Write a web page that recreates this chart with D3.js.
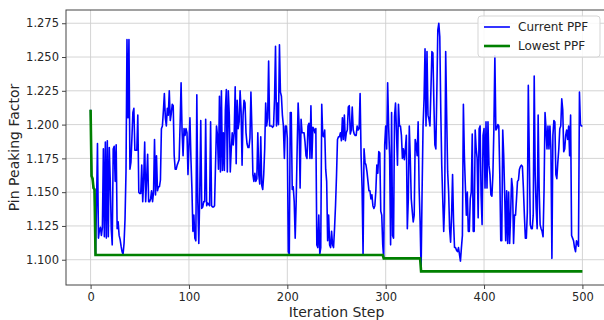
<!DOCTYPE html>
<html>
<head>
<meta charset="utf-8">
<script src="https://cdn.jsdelivr.net/npm/d3@7"></script>
<style>
  html, body { margin: 0; padding: 0; background: #fff; overflow: hidden; }
  svg { display: block; font-family: "DejaVu Sans", sans-serif; }
</style>
</head>
<body>
<div id="chart"></div>
<script>
// Current PPF per iteration step (steps 0..500)
const ppfSteps0to99 = [
  1.211, 1.162, 1.160, 1.153, 1.152, 1.1035, 1.140, 1.186, 1.116, 1.122,
  1.124, 1.118, 1.124, 1.182, 1.117, 1.187, 1.116, 1.188, 1.117, 1.183,
  1.158, 1.123, 1.111, 1.182, 1.184, 1.158, 1.185, 1.123, 1.128, 1.118,
  1.115, 1.110, 1.106, 1.104, 1.112, 1.130, 1.165, 1.263, 1.205, 1.263,
  1.167, 1.172, 1.190, 1.209, 1.212, 1.181, 1.181, 1.181, 1.207, 1.150,
  1.149, 1.149, 1.170, 1.143, 1.160, 1.187, 1.143, 1.160, 1.178, 1.143,
  1.143, 1.145, 1.151, 1.143, 1.150, 1.189, 1.148, 1.177, 1.151, 1.154,
  1.154, 1.159, 1.197, 1.199, 1.210, 1.223, 1.205, 1.199, 1.212, 1.207,
  1.225, 1.203, 1.208, 1.215, 1.214, 1.177, 1.167, 1.167, 1.170, 1.172,
  1.174, 1.200, 1.231, 1.195, 1.177, 1.197, 1.192, 1.197, 1.194, 1.163
];
const ppfSteps100to199 = [
  1.185, 1.205, 1.175, 1.153, 1.121, 1.133, 1.116, 1.114, 1.222, 1.143,
  1.112, 1.150, 1.203, 1.138, 1.139, 1.143, 1.143, 1.204, 1.140, 1.142,
  1.141, 1.140, 1.202, 1.140, 1.139, 1.139, 1.140, 1.170, 1.199, 1.192,
  1.167, 1.221, 1.165, 1.225, 1.166, 1.194, 1.166, 1.211, 1.226, 1.165,
  1.225, 1.207, 1.165, 1.182, 1.194, 1.185, 1.194, 1.228, 1.171, 1.218,
  1.197, 1.202, 1.225, 1.210, 1.170, 1.207, 1.218, 1.216, 1.194, 1.186,
  1.183, 1.183, 1.190, 1.224, 1.197, 1.163, 1.158, 1.164, 1.158, 1.160,
  1.194, 1.163, 1.156, 1.191, 1.155, 1.152, 1.163, 1.182, 1.216, 1.199,
  1.205, 1.247, 1.199, 1.199, 1.199, 1.198, 1.199, 1.219, 1.258, 1.199,
  1.216, 1.200, 1.259, 1.224, 1.221, 1.207, 1.199, 1.175, 1.199, 1.199
];
const ppfSteps200to299 = [
  1.190, 1.106, 1.104, 1.209, 1.209, 1.152, 1.154, 1.143, 1.116, 1.143,
  1.182, 1.216, 1.199, 1.153, 1.204, 1.194, 1.194, 1.194, 1.187, 1.177,
  1.175, 1.199, 1.201, 1.175, 1.214, 1.175, 1.198, 1.197, 1.194, 1.197,
  1.111, 1.109, 1.133, 1.104, 1.109, 1.215, 1.192, 1.191, 1.196, 1.167,
  1.158, 1.114, 1.133, 1.111, 1.109, 1.121, 1.111, 1.109, 1.123, 1.140,
  1.162, 1.189, 1.191, 1.191, 1.194, 1.188, 1.205, 1.189, 1.207, 1.188,
  1.194, 1.196, 1.213, 1.214, 1.193, 1.196, 1.213, 1.196, 1.193, 1.192,
  1.192, 1.199, 1.196, 1.197, 1.223, 1.177, 1.153, 1.104, 1.182, 1.172,
  1.170, 1.165, 1.158, 1.151, 1.151, 1.145, 1.148, 1.140, 1.138, 1.140,
  1.151, 1.170, 1.164, 1.180, 1.179, 1.136, 1.133, 1.111, 1.101, 1.185
];
const ppfSteps300to399 = [
  1.199, 1.182, 1.231, 1.199, 1.177, 1.111, 1.209, 1.118, 1.116, 1.206,
  1.216, 1.194, 1.170, 1.215, 1.199, 1.199, 1.192, 1.175, 1.182, 1.174,
  1.182, 1.192, 1.123, 1.145, 1.199, 1.175, 1.145, 1.136, 1.128, 1.133,
  1.189, 1.185, 1.177, 1.202, 1.153, 1.128, 1.0914, 1.150, 1.199, 1.219,
  1.256, 1.199, 1.254, 1.207, 1.204, 1.199, 1.226, 1.254, 1.253, 1.216,
  1.185, 1.182, 1.224, 1.270, 1.275, 1.265, 1.211, 1.170, 1.145, 1.121,
  1.143, 1.254, 1.207, 1.165, 1.150, 1.123, 1.113, 1.133, 1.163, 1.128,
  1.109, 1.109, 1.107, 1.106, 1.109, 1.104, 1.099, 1.109, 1.118, 1.215,
  1.177, 1.155, 1.133, 1.150, 1.121, 1.121, 1.145, 1.150, 1.193, 1.121,
  1.121, 1.196, 1.182, 1.175, 1.131, 1.197, 1.199, 1.148, 1.126, 1.192
];
const ppfSteps400to500 = [
  1.197, 1.153, 1.202, 1.153, 1.202, 1.170, 1.163, 1.148, 1.147, 1.163,
  1.197, 1.251, 1.196, 1.197, 1.200, 1.199, 1.163, 1.114, 1.114, 1.196,
  1.177, 1.148, 1.114, 1.151, 1.112, 1.150, 1.112, 1.133, 1.160, 1.153,
  1.112, 1.133, 1.133, 1.145, 1.158, 1.159, 1.167, 1.169, 1.170, 1.169,
  1.153, 1.133, 1.116, 1.116, 1.135, 1.229, 1.177, 1.126, 1.123, 1.123,
  1.133, 1.236, 1.163, 1.138, 1.123, 1.207, 1.153, 1.126, 1.123, 1.121,
  1.117, 1.151, 1.209, 1.197, 1.182, 1.199, 1.182, 1.199, 1.182, 1.101,
  1.192, 1.203, 1.202, 1.163, 1.160, 1.172, 1.182, 1.197, 1.199, 1.219,
  1.211, 1.180, 1.182, 1.192, 1.196, 1.189, 1.199, 1.177, 1.207, 1.118,
  1.116, 1.114, 1.109, 1.106, 1.114, 1.112, 1.110, 1.224, 1.200, 1.199,
  1.199
];

// Lowest PPF so far: corner points of the green line
const lowestSteps = [0, 1, 2, 3, 4, 5, 297, 298, 335, 336, 500];
const lowestValues = [1.211, 1.162, 1.160, 1.153, 1.152, 1.1035, 1.1035, 1.101, 1.101, 1.0914, 1.0914];

const xTicks = [0, 100, 200, 300, 400, 500];
const yTicks = [1.100, 1.125, 1.150, 1.175, 1.200, 1.225, 1.250, 1.275];
const seriesNames = ["Current PPF", "Lowest PPF"];

const W = 604, H = 320;
const margin = { top: 10, left: 66, bottom: 35, right: -3 };
const width = W - margin.left - margin.right;
const height = H - margin.top - margin.bottom;

const current = [].concat(ppfSteps0to99, ppfSteps100to199, ppfSteps200to299, ppfSteps300to399, ppfSteps400to500)
  .map((v, i) => ({ step: i, value: v }));
const lowest = lowestSteps.map((s, i) => ({ step: s, value: lowestValues[i] }));

const svg = d3.select("#chart").append("svg")
  .attr("width", W)
  .attr("height", H);

const x = d3.scaleLinear().domain([-25, 525]).range([0, width]);
const y = d3.scaleLinear().domain([1.0813, 1.2848]).range([height, 0]);

const g = svg.append("g").attr("transform", `translate(${margin.left},${margin.top})`);

// grid
g.append("g").selectAll("line").data(xTicks).enter().append("line")
  .attr("x1", d => x(d)).attr("x2", d => x(d))
  .attr("y1", 0).attr("y2", height)
  .attr("stroke", "#cfcfcf").attr("stroke-width", 0.9);
g.append("g").selectAll("line").data(yTicks).enter().append("line")
  .attr("x1", 0).attr("x2", width)
  .attr("y1", d => y(d)).attr("y2", d => y(d))
  .attr("stroke", "#cfcfcf").attr("stroke-width", 0.9);

// lines
const line = d3.line().x(d => x(d.step)).y(d => y(d.value));

g.append("path").datum(current)
  .attr("d", line)
  .attr("fill", "none")
  .attr("stroke", "#0000ff")
  .attr("stroke-width", 1.6)
  .attr("stroke-linejoin", "round");

g.append("path").datum(lowest)
  .attr("d", line)
  .attr("fill", "none")
  .attr("stroke", "#008000")
  .attr("stroke-width", 2.6);

// frame
g.append("rect")
  .attr("x", 0).attr("y", 0)
  .attr("width", width).attr("height", height)
  .attr("fill", "none").attr("stroke", "#444").attr("stroke-width", 1);

// axes
const xAxis = g.append("g")
  .attr("transform", `translate(0,${height})`)
  .call(d3.axisBottom(x).tickValues(xTicks).tickSize(4).tickPadding(4));
const yAxis = g.append("g")
  .call(d3.axisLeft(y).tickValues(yTicks).tickFormat(d3.format(".3f")).tickSize(4).tickPadding(3));

[xAxis, yAxis].forEach(a => {
  a.select(".domain").remove();
  a.selectAll("line").attr("stroke", "#444");
  a.selectAll("text")
    .attr("fill", "#262626")
    .attr("font-size", "11.5px")
    .attr("font-family", "DejaVu Sans, sans-serif");
});

// axis labels
svg.append("text")
  .attr("x", margin.left + x(250))
  .attr("y", 317)
  .attr("text-anchor", "middle")
  .attr("font-size", "14px")
  .attr("fill", "#262626")
  .text("Iteration Step");

svg.append("text")
  .attr("transform", `translate(19,${margin.top + height / 2}) rotate(-90)`)
  .attr("text-anchor", "middle")
  .attr("font-size", "14px")
  .attr("fill", "#262626")
  .text("Pin Peaking Factor");

// legend
const legend = svg.append("g").attr("transform", "translate(478,16)");
legend.append("rect")
  .attr("width", 122).attr("height", 41)
  .attr("rx", 3)
  .attr("fill", "rgba(255,255,255,0.85)")
  .attr("stroke", "#d5d5d5");

const legendColors = ["#0000ff", "#008000"];
const legendWidths = [1.6, 2.6];
const item = legend.selectAll(".item").data(seriesNames).enter().append("g")
  .attr("class", "item")
  .attr("transform", (d, i) => `translate(0,${11 + i * 19})`);
item.append("line")
  .attr("x1", 6).attr("x2", 32)
  .attr("stroke", (d, i) => legendColors[i])
  .attr("stroke-width", (d, i) => legendWidths[i]);
item.append("text")
  .attr("x", 40).attr("dy", "0.35em")
  .attr("font-size", "12px")
  .attr("fill", "#262626")
  .text(d => d);
</script>
</body>
</html>
